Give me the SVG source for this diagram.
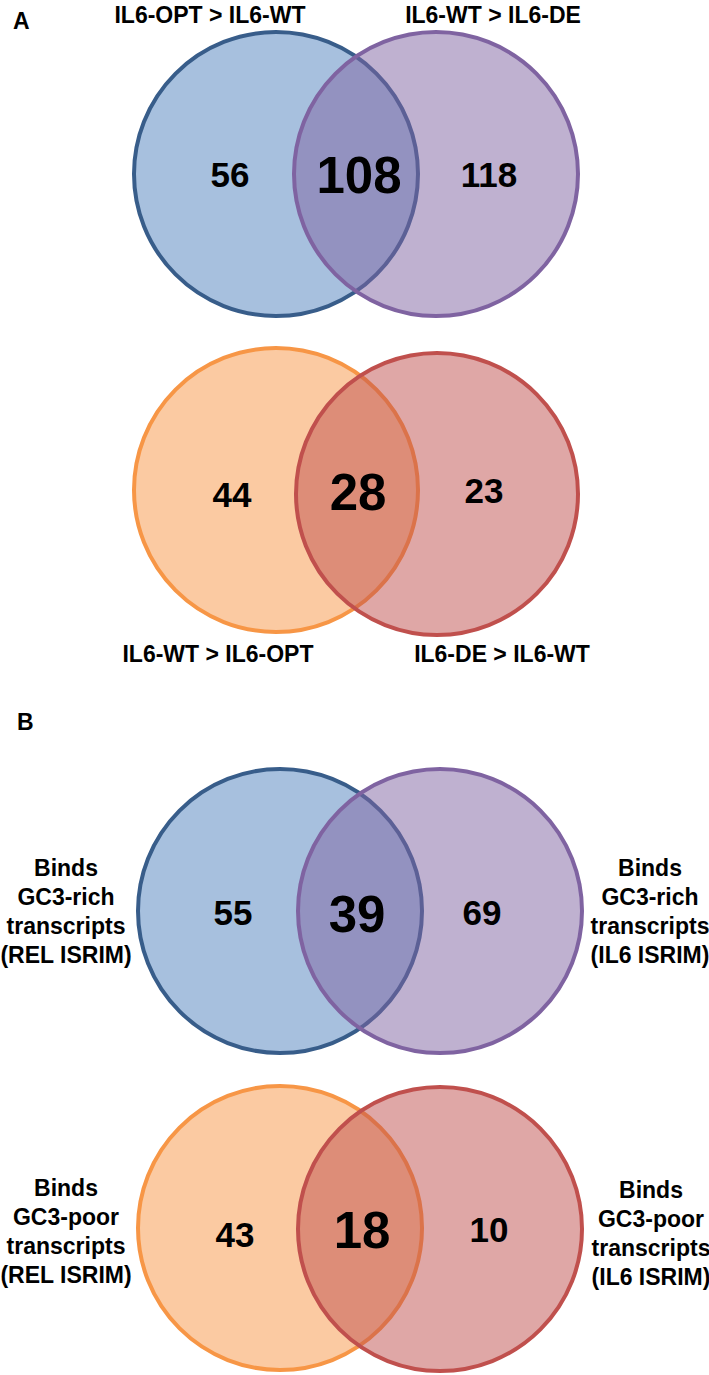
<svg xmlns="http://www.w3.org/2000/svg" width="709" height="1375" viewBox="0 0 709 1375">
<style>
.lbl{font-family:"Liberation Sans",Arial,sans-serif;font-weight:bold;font-size:23px;fill:#000;text-anchor:middle}
.panel{font-family:"Liberation Sans",Arial,sans-serif;font-weight:bold;font-size:23px;fill:#000}
.num{font-family:"Liberation Sans",Arial,sans-serif;font-weight:bold;font-size:35px;fill:#000;text-anchor:middle}
.big{font-family:"Liberation Sans",Arial,sans-serif;font-weight:bold;font-size:51px;fill:#000;text-anchor:middle}
.c{stroke-width:4;fill-opacity:0.5}
.blue{fill:#4F81BD;stroke:#385D8A}
.purple{fill:#8064A2;stroke:#7F63A1}
.orange{fill:#F79646;stroke:#F79646}
.red{fill:#C0504D;stroke:#C0504D}
</style>
<rect width="709" height="1375" fill="#fff"/>
<text class="panel" x="13" y="29">A</text>
<text class="panel" x="17" y="730">B</text>

<g id="venn-a-top">
<circle class="c blue" cx="276" cy="174" r="142"/>
<circle class="c purple" cx="436" cy="174" r="142"/>
<text class="lbl" x="210" y="23">IL6-OPT &gt; IL6-WT</text>
<text class="lbl" x="493" y="23">IL6-WT &gt; IL6-DE</text>
<text class="num" x="230" y="187">56</text>
<text class="big" x="359" y="193">108</text>
<text class="num" x="489" y="187">118</text>
</g>

<g id="venn-a-bottom">
<circle class="c orange" cx="276" cy="490" r="142"/>
<circle class="c red" cx="437" cy="494" r="141"/>
<text class="lbl" x="218" y="662">IL6-WT &gt; IL6-OPT</text>
<text class="lbl" x="502" y="662">IL6-DE &gt; IL6-WT</text>
<text class="num" x="232" y="507">44</text>
<text class="big" x="358" y="510">28</text>
<text class="num" x="484" y="503">23</text>
</g>

<g id="venn-b-top">
<circle class="c blue" cx="280" cy="911" r="142"/>
<circle class="c purple" cx="440" cy="911" r="142"/>
<text class="lbl" x="66" y="876">Binds</text>
<text class="lbl" x="66" y="905">GC3-rich</text>
<text class="lbl" x="66" y="934">transcripts</text>
<text class="lbl" x="66" y="963">(REL ISRIM)</text>
<text class="lbl" x="650" y="876">Binds</text>
<text class="lbl" x="650" y="905">GC3-rich</text>
<text class="lbl" x="650" y="934">transcripts</text>
<text class="lbl" x="650" y="963">(IL6 ISRIM)</text>
<text class="num" x="233" y="925">55</text>
<text class="big" x="357" y="932">39</text>
<text class="num" x="482" y="925">69</text>
</g>

<g id="venn-b-bottom">
<circle class="c orange" cx="280" cy="1228" r="142"/>
<circle class="c red" cx="440" cy="1229" r="142"/>
<text class="lbl" x="66" y="1196">Binds</text>
<text class="lbl" x="66" y="1225">GC3-poor</text>
<text class="lbl" x="66" y="1254">transcripts</text>
<text class="lbl" x="66" y="1283">(REL ISRIM)</text>
<text class="lbl" x="651" y="1198">Binds</text>
<text class="lbl" x="651" y="1227">GC3-poor</text>
<text class="lbl" x="651" y="1256">transcripts</text>
<text class="lbl" x="651" y="1285">(IL6 ISRIM)</text>
<text class="num" x="235" y="1247">43</text>
<text class="big" x="362" y="1248">18</text>
<text class="num" x="489" y="1242">10</text>
</g>

<g id="connectors"></g>
</svg>
